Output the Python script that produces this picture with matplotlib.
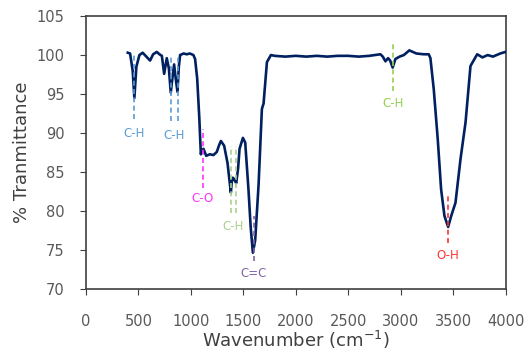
import matplotlib.pyplot as plt

# FTIR spectrum
wavenumber = [398, 420, 445, 461, 480, 509, 540, 575, 611, 640, 675, 700, 723, 745, 770, 790,
              808, 825, 840, 855, 872, 885, 897, 930, 960, 990, 1024, 1040, 1060, 1080, 1095,
              1105, 1120, 1146, 1180, 1215, 1247, 1270, 1286, 1317, 1349, 1381, 1390, 1400, 1413,
              1432, 1450, 1464, 1496, 1518, 1549, 1570, 1591, 1613, 1645, 1677, 1693, 1725, 1763,
              1800, 1900, 2000, 2100, 2200, 2300, 2400, 2500, 2600, 2700, 2807, 2830, 2855, 2880,
              2900, 2924, 2950, 2990, 3030, 3083, 3150, 3220, 3268, 3284, 3316, 3354, 3386, 3418,
              3453, 3482, 3523, 3571, 3619, 3666, 3730, 3780, 3830, 3880, 3950, 4000]
transmittance = [100.3, 100.2, 98.0, 94.5, 98.5, 100.0, 100.3, 99.8, 99.3, 100.1, 100.4, 100.1, 99.9,
                 97.6, 99.6, 98.3, 95.2, 97.2, 98.8, 97.0, 95.3, 98.5, 100.0, 100.2, 100.1, 100.2,
                 100.0, 99.5, 97.0, 92.0, 87.3, 87.8, 88.0, 87.1, 87.3, 87.2, 87.6, 88.5, 89.0, 88.4,
                 86.2, 82.4, 83.8, 84.3, 84.1, 83.6, 85.5, 88.0, 89.4, 88.8, 82.8, 78.0, 74.7, 76.3,
                 83.3, 93.1, 93.8, 99.1, 100.0, 99.9, 99.8, 99.9, 99.8, 99.9, 99.8, 99.9, 99.9, 99.8,
                 99.9, 100.1, 99.8, 99.2, 99.6, 99.3, 98.4, 99.5, 99.8, 100.0, 100.6, 100.2, 100.1,
                 100.1, 99.6, 95.6, 89.2, 82.8, 79.4, 78.0, 79.4, 81.1, 86.7, 91.4, 98.6, 100.1,
                 99.7, 100.0, 99.8, 100.2, 100.4]

# band assignments: label, wavenumbers of the dashed lines, line top, line bottom, label y, colour
peak_labels = ["C-H", "C-H", "C-O", "C-H", "C=C", "C-H", "O-H"]
peak_positions = [[461], [808, 875], [1113], [1384, 1429], [1597], [2925], [3453]]
line_tops = [100.0, 100.0, 90.5, 88.4, 79.4, 101.5, 82.2]
line_bottoms = [91.8, 91.6, 83.0, 79.8, 73.6, 95.4, 75.9]
label_y = [90.0, 89.7, 81.7, 78.1, 72.0, 93.8, 74.4]
peak_colors = ["#5B9BD5", "#5B9BD5", "#FF33FF", "#A9D18E", "#8064A2", "#92D050", "#FF3333"]

fig = plt.figure(figsize=(5.32, 3.53), dpi=100)
ax = fig.add_axes([0.1617, 0.18, 0.7885, 0.7747])

ax.plot(wavenumber, transmittance, color="#002060", linewidth=1.9, zorder=3)

for lab, xs, top, bot, ly, col in zip(peak_labels, peak_positions, line_tops, line_bottoms,
                                      label_y, peak_colors):
    for x in xs:
        ax.plot([x, x], [bot, top], color=col, linestyle=(0, (3, 2)), linewidth=1.2, zorder=4)
    xc = sum(xs) / len(xs)
    ax.text(xc, ly, lab, color=col, ha="center", va="center", fontsize=8.5)

ax.set_xlim(0, 4000)
ax.set_ylim(70, 105)
ax.set_xticks(range(0, 4001, 500))
ax.set_yticks(range(70, 106, 5))
ax.tick_params(axis="both", direction="out", length=4.5, color="#404040", labelcolor="#595959",
               labelsize=10.5)
ax.tick_params(axis="x", pad=13)
ax.tick_params(axis="y", pad=11)
for s in ax.spines.values():
    s.set_color("#404040")
    s.set_linewidth(1.2)

ax.set_xlabel("Wavenumber (cm$^{-1}$)", fontsize=13, color="#404040", labelpad=0)
ax.set_ylabel("% Tranmittance", fontsize=13, color="#404040", labelpad=4)

fig.savefig("out.png", dpi=100)
